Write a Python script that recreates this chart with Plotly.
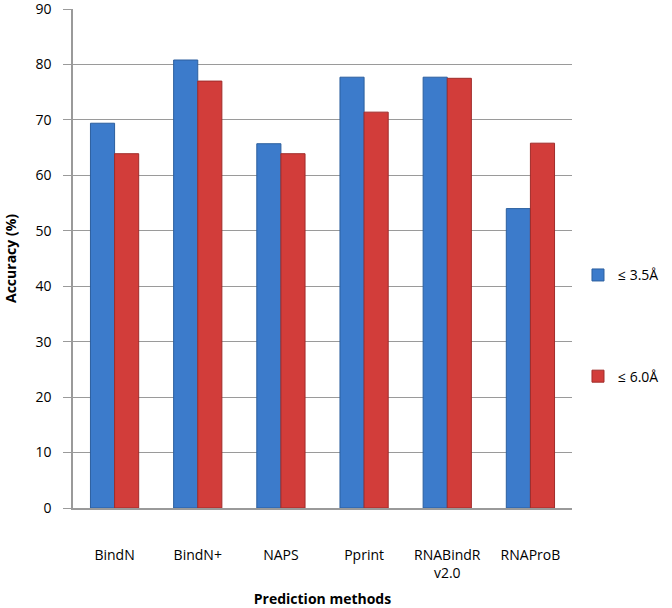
import plotly.graph_objects as go

categories = ["BindN", "BindN+", "NAPS", "Pprint", "RNABindR<br>v2.0", "RNAProB"]
series_names = ["≤ 3.5Å", "≤ 6.0Å"]
acc_35 = [69.4, 80.8, 65.7, 77.7, 77.7, 54.0]
acc_60 = [63.9, 77.0, 63.9, 71.4, 77.5, 65.8]
y_ticks = [0, 10, 20, 30, 40, 50, 60, 70, 80, 90]

font_family = "Open Sans, Noto Sans, Liberation Sans, sans-serif"

fig = go.Figure()
fig.add_trace(go.Bar(
    x=categories, y=acc_35, name=series_names[0], legendgroup="a",
    marker=dict(color="#3C7BCB", line=dict(color="#2C5F9E", width=1)),
))
fig.add_trace(go.Bar(
    x=categories, y=acc_60, name=series_names[1], legendgroup="b",
    marker=dict(color="#D23D3A", line=dict(color="#A02C2A", width=1)),
))

fig.update_layout(
    width=672, height=608,
    margin=dict(l=73, r=100, t=9, b=100, autoexpand=False),
    paper_bgcolor="white", plot_bgcolor="white",
    barmode="group", bargap=0.42, bargroupgap=0,
    font=dict(family=font_family, size=14, color="#000000"),
    showlegend=True,
    legend=dict(
        x=1.012, xanchor="left", y=0.365, yanchor="middle",
        font=dict(size=14, family=font_family),
        tracegroupgap=80, bgcolor="rgba(0,0,0,0)",
        itemwidth=30,
    ),
    xaxis=dict(
        automargin=False,
        showline=True, linecolor="#9a9a9a", linewidth=1.5,
        ticks="", tickfont=dict(size=14),
        ticklabelstandoff=33,
        title=dict(text="<b>Prediction methods</b>", font=dict(size=14), standoff=18),
    ),
    yaxis=dict(
        automargin=False,
        range=[0, 90], tickvals=y_ticks,
        showline=True, linecolor="#9a9a9a", linewidth=1.5,
        showgrid=True, gridcolor="#9a9a9a", gridwidth=1.3,
        ticks="outside", ticklen=8, tickcolor="#9a9a9a",
        tickfont=dict(size=14),
        ticklabelstandoff=9,
        ticklabeloverflow="allow",
        zeroline=False,
        title=dict(text="<b>Accuracy (%)</b>", font=dict(size=14), standoff=16),
    ),
)

fig.write_html(
    "out.html",
    config={"displayModeBar": False},
    post_script="document.body.style.margin='0';document.body.style.overflow='hidden';",
)
